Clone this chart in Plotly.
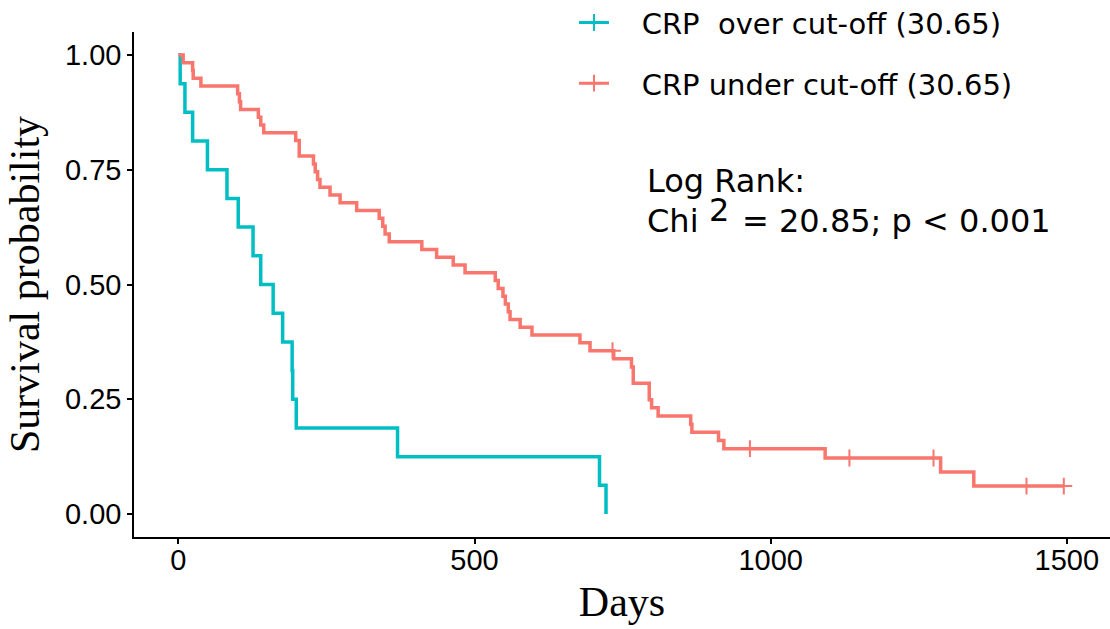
import plotly.graph_objects as go

# Follow-up (days) for the two CRP groups
over_events = [3, 11, 24, 49, 82, 101, 126, 139, 160, 176, 192, 193, 199, 370, 711, 722]
over_censored = []

under_events = [8, 24, 25, 38, 100, 103, 105, 135, 139, 144, 198, 204, 204,
                228, 231, 235, 239, 256, 273, 301, 339, 345, 349, 356, 411, 436,
                464, 484, 535, 540, 548, 552, 557, 560, 577, 597, 678, 695, 735,
                765, 768, 768, 795, 795, 799, 810, 865, 867, 912, 921, 1092,
                1287, 1343]
under_censored = [733, 965, 1133, 1275, 1432, 1495]

group_names = ["CRP\u00a0 over cut-off (30.65)", "CRP under cut-off (30.65)"]
group_colors = ["#00BFC4", "#F8766D"]

x_ticks = [0, 500, 1000, 1500]
x_ticktext = ["0", "500", "1000", "1500"]
y_ticks = [0, 0.25, 0.5, 0.75, 1.0]
y_ticktext = ["0.00", "0.25", "0.50", "0.75", "1.00"]

log_rank_title = "Log Rank:"
chi_label = "Chi"
chi_power = "2"
chi_result = "= 20.85; p < 0.001"


def km_steps(events, censored):
    """Kaplan-Meier estimate as step points plus censor-mark points."""
    times = sorted(set(events) | set(censored))
    at_risk = len(events) + len(censored)
    s = 1.0
    xs, ys = [0], [1.0]
    cx, cy = [], []
    for t in times:
        d = events.count(t)
        c = censored.count(t)
        if d:
            s *= (at_risk - d) / at_risk
        xs.append(t)
        ys.append(s)
        if c:
            cx.append(t)
            cy.append(s)
        at_risk -= d + c
    return xs, ys, cx, cy


fig = go.Figure()
groups = [(over_events, over_censored), (under_events, under_censored)]
for i, (ev, ce) in enumerate(groups):
    color = group_colors[i]
    xs, ys, cx, cy = km_steps(ev, ce)
    fig.add_trace(go.Scatter(
        x=xs, y=ys, mode="lines",
        line=dict(color=color, width=3.5, shape="hv"),
        showlegend=False, hoverinfo="skip"))
    if cx:
        fig.add_trace(go.Scatter(
            x=cx, y=cy, mode="markers",
            marker=dict(symbol="cross-thin", size=12, color=color,
                        line=dict(color=color, width=2)),
            showlegend=False, hoverinfo="skip"))
    # legend key: line with a censor cross; leading spaces give the
    # label some room after the key
    fig.add_trace(go.Scatter(
        x=[None], y=[None], mode="lines+markers",
        name="\u00a0\u00a0\u00a0" + group_names[i],
        legendgroup=f"g{i}",
        line=dict(color=color, width=3),
        marker=dict(symbol="cross-thin", size=12, color=color,
                    line=dict(color=color, width=2))))

ann_font = dict(family="DejaVu Sans", size=32, color="black")
fig.add_annotation(x=788, y=0.726, text=log_rank_title, xanchor="left",
                   yanchor="middle", showarrow=False, font=ann_font)
fig.add_annotation(x=788, y=0.638, text=chi_label, xanchor="left",
                   yanchor="middle", showarrow=False, font=ann_font)
fig.add_annotation(x=892, y=0.662, text=chi_power, xanchor="left",
                   yanchor="middle", showarrow=False, font=ann_font)
fig.add_annotation(x=949, y=0.638, text=chi_result, xanchor="left",
                   yanchor="middle", showarrow=False, font=ann_font)

axis_common = dict(
    showline=True, linecolor="black", linewidth=1.5,
    ticks="outside", ticklen=5, tickwidth=1.5, tickcolor="black",
    showgrid=False, zeroline=False,
    tickfont=dict(family="Liberation Sans", size=29, color="black"),
)

fig.update_layout(
    width=1110, height=629,
    margin=dict(l=134, r=0, t=32, b=92, autoexpand=False),
    plot_bgcolor="white", paper_bgcolor="white",
    xaxis=dict(range=[-75, 1573], tickvals=x_ticks, ticktext=x_ticktext,
               ticklabelstandoff=-9,
               title=dict(text="Days", standoff=12,
                          font=dict(family="Liberation Serif", size=42, color="black")),
               **axis_common),
    yaxis=dict(range=[-0.05, 1.05], tickvals=y_ticks, ticktext=y_ticktext,
               title=dict(text="Survival probability", standoff=12,
                          font=dict(family="Liberation Serif", size=42, color="black")),
               **axis_common),
    legend=dict(x=0.4508, y=1.069, xanchor="left", yanchor="top",
                traceorder="grouped", tracegroupgap=20,
                font=dict(family="DejaVu Sans", size=29, color="black"),
                bgcolor="rgba(0,0,0,0)"),
)

fig.write_html("out.html")
